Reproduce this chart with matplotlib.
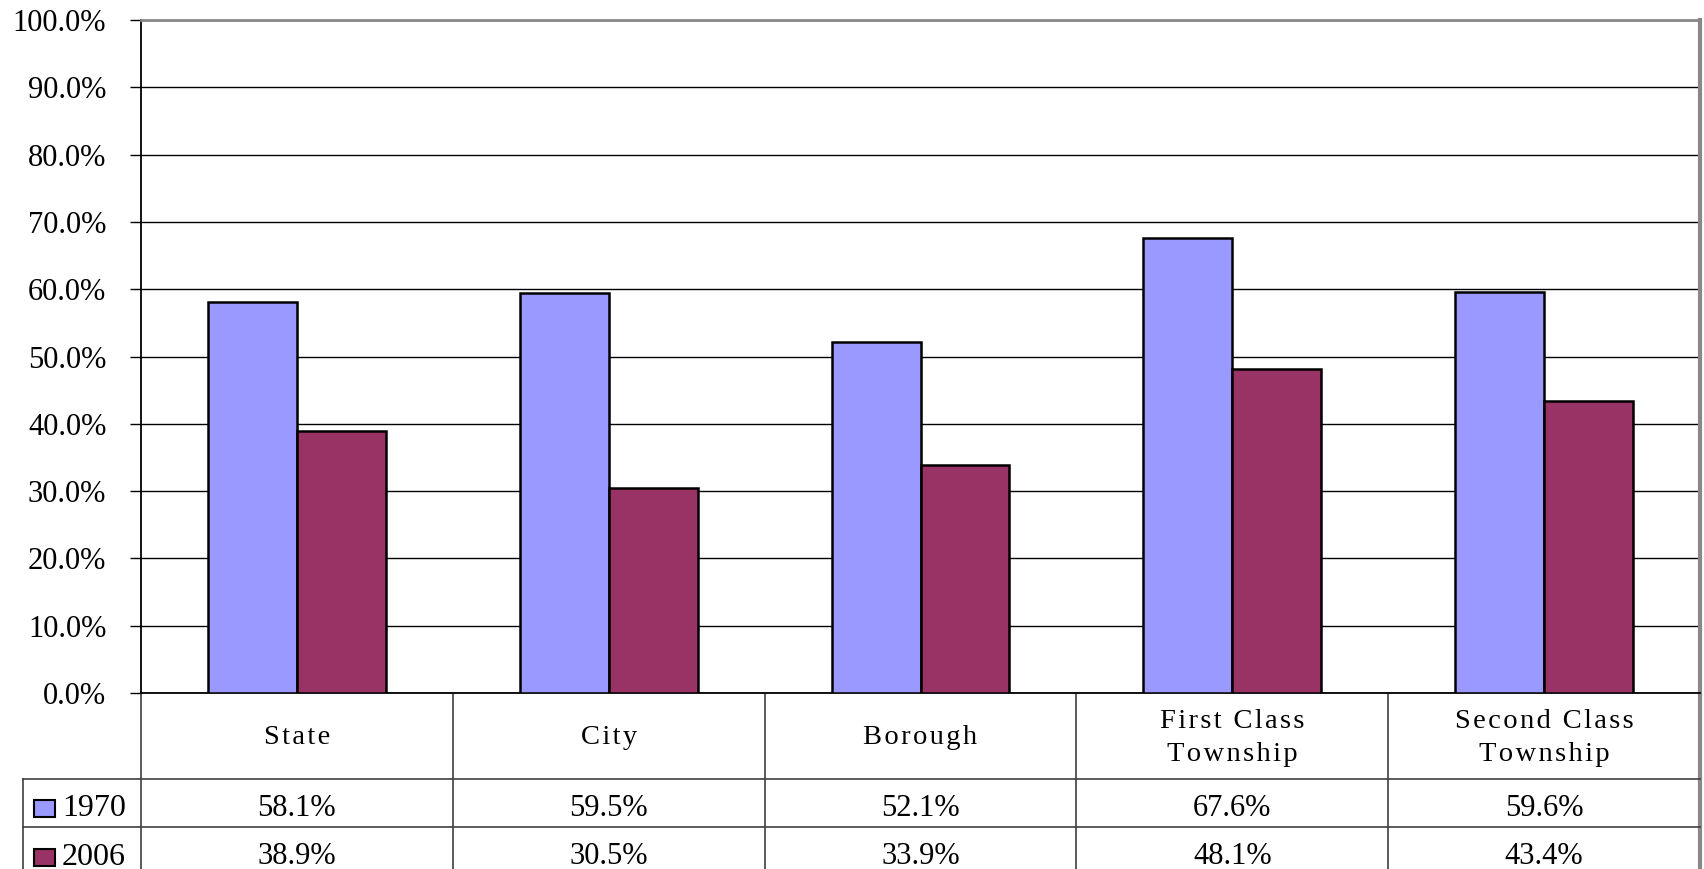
import matplotlib.pyplot as plt
from matplotlib.ticker import PercentFormatter

# données
categories = ['State', 'City', 'Borough', 'First Class\nTownship', 'Second Class\nTownship']
series = ['1970', '2006']
values_1970 = [58.1, 59.5, 52.1, 67.6, 59.6]
values_2006 = [38.9, 30.5, 33.9, 48.1, 43.4]
colors = ['#9999FF', '#993366']

W, H = 1704, 869
plt.rcParams['font.family'] = ['Liberation Serif', 'DejaVu Serif']

fig = plt.figure(figsize=(W / 100, H / 100), dpi=100)

# zone du graphique en pixels
left, right, top, bottom = 141, 1700, 20, 693
ax = fig.add_axes([left / W, 1 - bottom / H, (right - left) / W, (bottom - top) / H])

n = len(categories)
x = list(range(n))
bw = 0.285
ax.bar([i - bw / 2 for i in x], values_1970, bw, color=colors[0], edgecolor='black', linewidth=1.8, zorder=3)
ax.bar([i + bw / 2 for i in x], values_2006, bw, color=colors[1], edgecolor='black', linewidth=1.8, zorder=3)

ax.set_xlim(-0.5, n - 0.5)
ax.set_ylim(0, 100)
ax.set_yticks(range(0, 101, 10))
ax.yaxis.set_major_formatter(PercentFormatter(decimals=1))
ax.tick_params(axis='y', length=8, width=1, pad=17, labelsize=22, direction='out')
ax.set_xticks([])
ax.yaxis.grid(True, color='black', linewidth=1)
ax.set_axisbelow(True)
ax.spines['left'].set_linewidth(1.3)
ax.spines['bottom'].set_linewidth(1.3)
ax.spines['top'].set_color('#888888')
ax.spines['top'].set_linewidth(2)
ax.spines['right'].set_color('#888888')
ax.spines['right'].set_linewidth(3)

# tableau de données dessiné en coordonnées pixels
tab = fig.add_axes([0, 0, 1, 1], zorder=-1)
tab.set_xlim(0, W)
tab.set_ylim(H, 0)
tab.axis('off')

colw = (right - left) / n
row_head, row1, row2 = 779, 827, 880
lc = '#404040'
lw = 1.2

def spaced(s):
    return '\n'.join('\u200a'.join(line) for line in s.split('\n'))

for i in range(n + 1):
    xx = left + i * colw
    tab.plot([xx, xx], [bottom, H], color=lc if i < n else '#888888', lw=lw if i < n else 3)
tab.plot([23, 23], [row_head, H], color=lc, lw=lw)
tab.plot([23, right], [row_head, row_head], color=lc, lw=lw)
tab.plot([23, right], [row1, row1], color=lc, lw=lw)

for i, cat in enumerate(categories):
    cx = left + (i + 0.5) * colw
    tab.text(cx, (bottom + row_head) / 2 + 2, spaced(cat), ha='center', va='center', fontsize=20.5, linespacing=1.45)
    tab.text(cx, (row_head + row1) / 2 + 5, f'{values_1970[i]:.1f}%', ha='center', va='center', fontsize=22)
    tab.text(cx, (row1 + row2) / 2 + 3, f'{values_2006[i]:.1f}%', ha='center', va='center', fontsize=22)

for j, (name, col) in enumerate(zip(series, colors)):
    yc = (row_head + row1) / 2 + 5 if j == 0 else (row1 + row2) / 2 + 3
    tab.add_patch(plt.Rectangle((34, yc - 8), 21, 17, facecolor=col, edgecolor='black', lw=1.5))
    tab.text(62, yc + 1, name, ha='left', va='center', fontsize=23)

fig.savefig('out.png', dpi=100)
